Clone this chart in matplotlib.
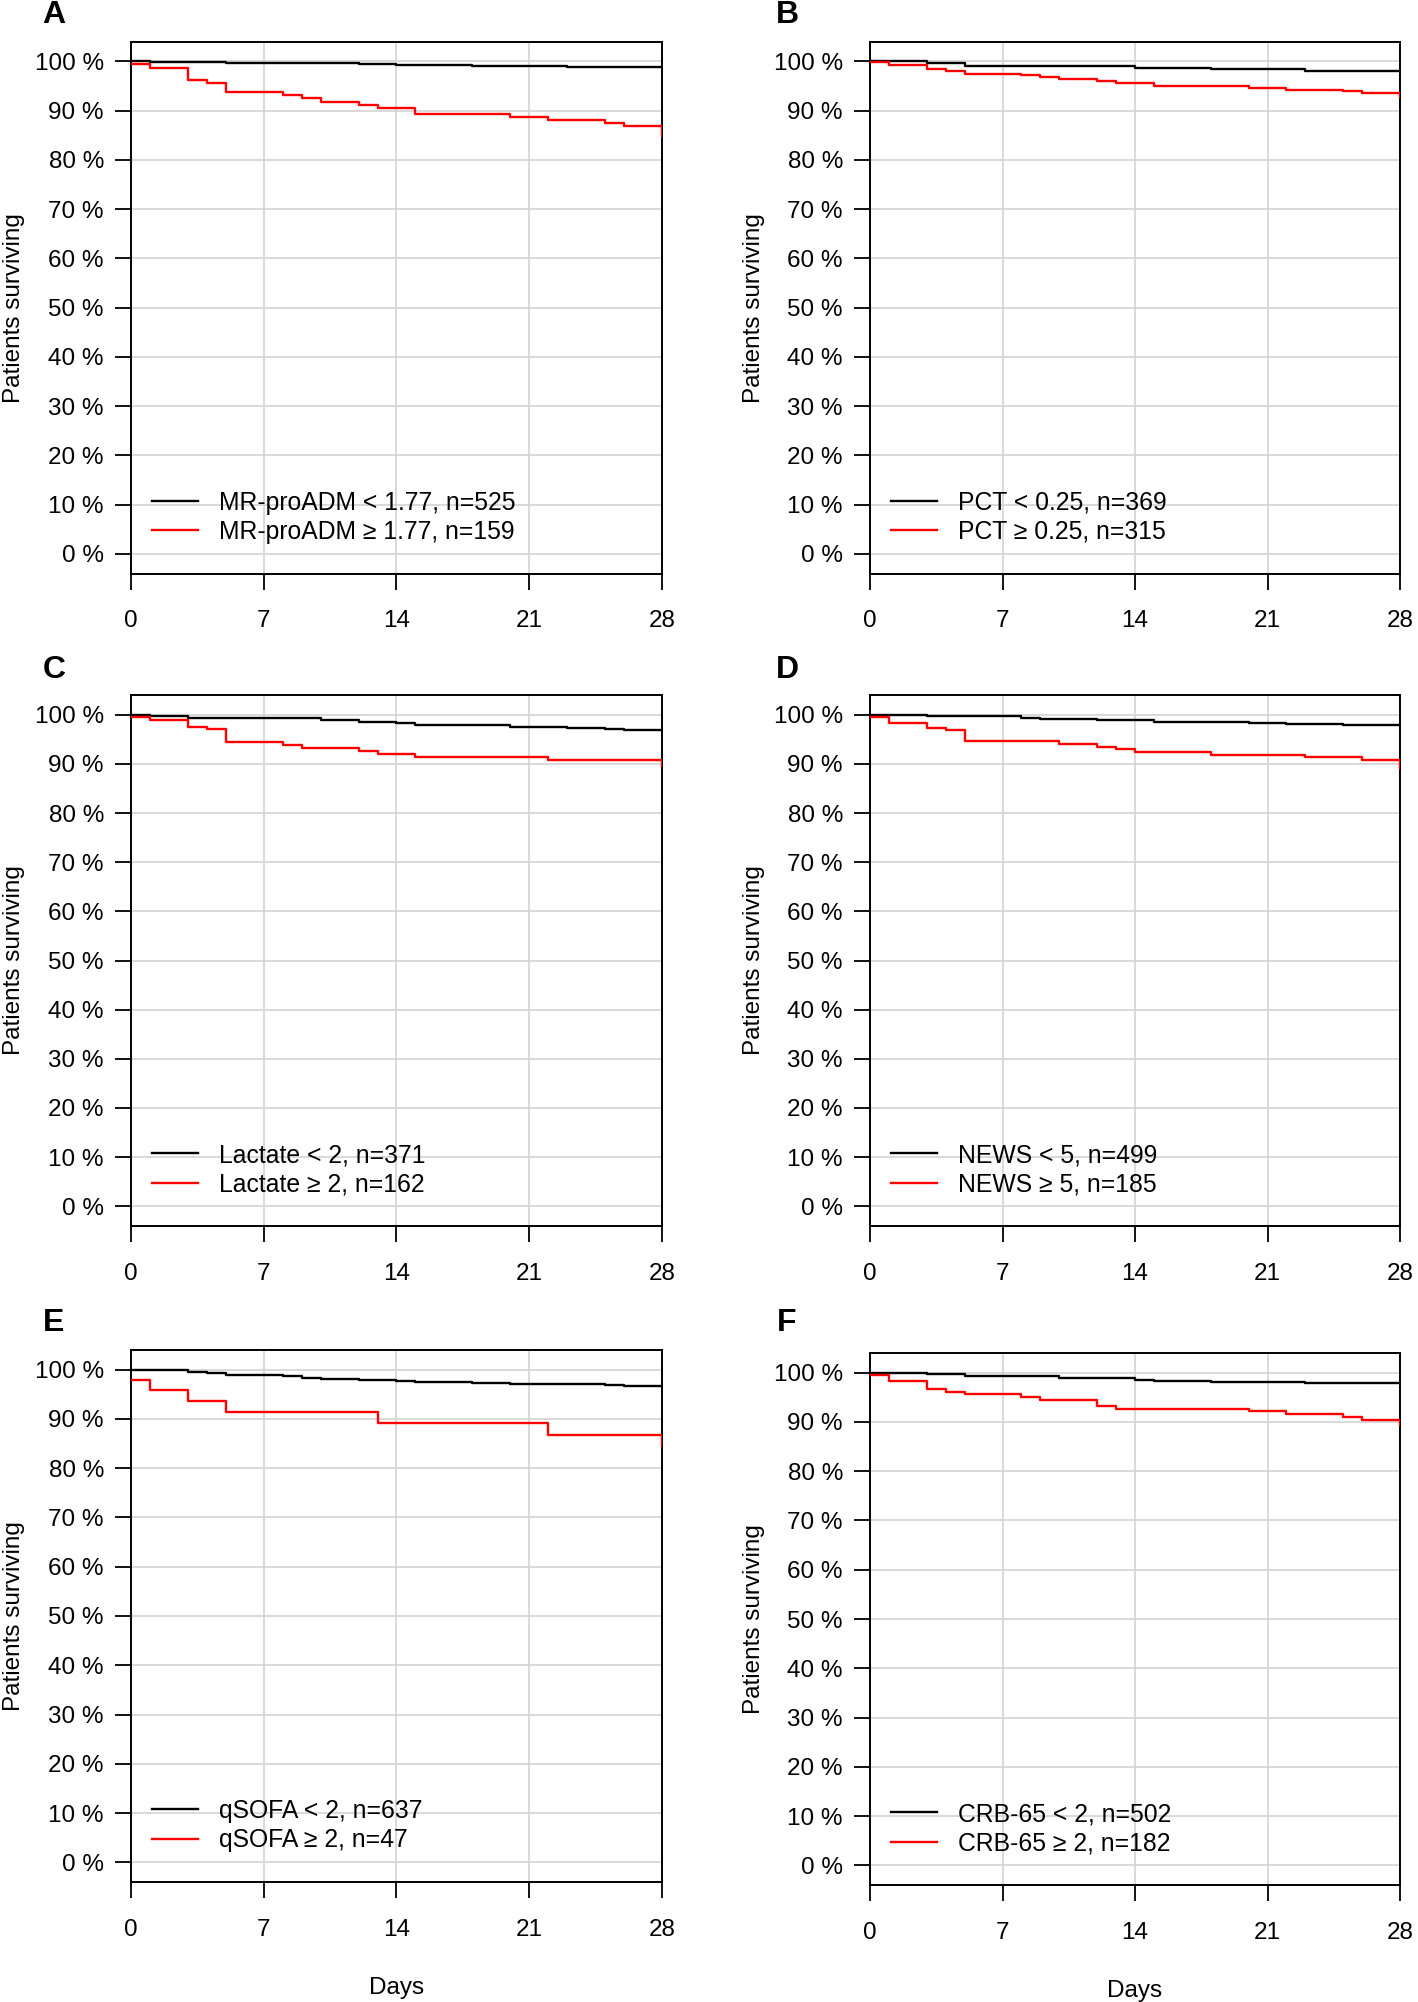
import matplotlib
matplotlib.use('Agg')
import matplotlib.pyplot as plt

plt.rcParams['font.family'] = ['Liberation Sans', 'DejaVu Sans']

# Achsen / Beschriftungen
panel_letters = ['A', 'B', 'C', 'D', 'E', 'F']
x_ticks = [0, 7, 14, 21, 28]
y_ticks = [0, 10, 20, 30, 40, 50, 60, 70, 80, 90, 100]
y_tick_labels = [f'{v} %' for v in y_ticks]

low_labels = ['MR-proADM < 1.77, n=525', 'PCT < 0.25, n=369', 'Lactate < 2, n=371',
              'NEWS < 5, n=499', 'qSOFA < 2, n=637', 'CRB-65 < 2, n=502']
high_labels = ['MR-proADM \u2265 1.77, n=159', 'PCT \u2265 0.25, n=315', 'Lactate \u2265 2, n=162',
               'NEWS \u2265 5, n=185', 'qSOFA \u2265 2, n=47', 'CRB-65 \u2265 2, n=182']

# A: MR-proADM
a_low_days = [0, 1, 5, 12, 14, 18, 23, 28]
a_low_surv = [100, 99.8, 99.6, 99.4, 99.2, 99.0, 98.8, 98.8]
a_high_days = [0, 1, 3, 4, 5, 8, 9, 10, 12, 13, 15, 20, 22, 25, 26, 28]
a_high_surv = [99.4, 98.7, 96.2, 95.6, 93.7, 93.1, 92.5, 91.8, 91.2, 90.6, 89.3, 88.7, 88.1, 87.4, 86.8, 84.9]

# B: PCT
b_low_days = [0, 3, 5, 14, 18, 23, 28]
b_low_surv = [100, 99.6, 99.1, 98.7, 98.4, 98.1, 98.1]
b_high_days = [0, 1, 3, 4, 5, 8, 9, 10, 12, 13, 15, 20, 22, 25, 26, 28]
b_high_surv = [99.8, 99.2, 98.4, 98.1, 97.5, 97.2, 96.8, 96.5, 95.9, 95.5, 94.9, 94.5, 94.1, 93.9, 93.5, 92.8]

# C: Lactate
c_low_days = [0, 1, 3, 10, 12, 14, 15, 18, 20, 23, 25, 26, 28]
c_low_surv = [100, 99.8, 99.3, 99.0, 98.6, 98.4, 98.0, 97.8, 97.5, 97.2, 97.0, 96.8, 96.8]
c_high_days = [0, 1, 3, 4, 5, 8, 9, 12, 13, 15, 22, 28]
c_high_surv = [99.5, 98.9, 97.5, 97.0, 94.4, 93.8, 93.2, 92.6, 92.0, 91.4, 90.7, 89.6]

# D: NEWS
d_low_days = [0, 3, 8, 9, 12, 15, 20, 22, 25, 28]
d_low_surv = [100, 99.7, 99.4, 99.1, 99.0, 98.6, 98.4, 98.1, 97.9, 97.9]
d_high_days = [0, 1, 3, 4, 5, 10, 12, 13, 14, 18, 23, 26, 28]
d_high_surv = [99.5, 98.4, 97.3, 96.9, 94.6, 94.1, 93.5, 93.0, 92.4, 91.8, 91.3, 90.7, 89.1]

# E: qSOFA
e_low_days = [0, 1, 3, 4, 5, 8, 9, 10, 12, 14, 15, 18, 20, 23, 25, 26, 28]
e_low_surv = [100, 99.9, 99.5, 99.3, 98.9, 98.7, 98.4, 98.2, 98.0, 97.8, 97.5, 97.3, 97.1, 97.0, 96.9, 96.7, 96.7]
e_high_days = [0, 1, 3, 5, 13, 22, 28]
e_high_surv = [98.0, 95.9, 93.7, 91.4, 89.2, 86.8, 84.6]

# F: CRB-65
f_low_days = [0, 3, 5, 10, 14, 15, 18, 23, 28]
f_low_surv = [100, 99.8, 99.3, 98.9, 98.6, 98.4, 98.2, 98.0, 98.0]
f_high_days = [0, 1, 3, 4, 5, 8, 9, 12, 13, 20, 22, 25, 26, 28]
f_high_surv = [99.6, 98.4, 96.7, 96.1, 95.6, 95.0, 94.4, 93.3, 92.7, 92.2, 91.6, 91.0, 90.5, 89.3]

curves = [
    (a_low_days, a_low_surv, a_high_days, a_high_surv),
    (b_low_days, b_low_surv, b_high_days, b_high_surv),
    (c_low_days, c_low_surv, c_high_days, c_high_surv),
    (d_low_days, d_low_surv, d_high_days, d_high_surv),
    (e_low_days, e_low_surv, e_high_days, e_high_surv),
    (f_low_days, f_low_surv, f_high_days, f_high_surv),
]

FS = 17.5
W, H = 1418, 2002
fig = plt.figure(figsize=(W / 100, H / 100), dpi=100)

# Panel-Positionen in Pixeln (links, oben, rechts, unten)
boxes = [
    (131, 41.6, 662, 573.6), (870, 41.6, 1400, 573.6),
    (131, 695, 662, 1226), (870, 695, 1400, 1226),
    (131, 1350, 662, 1882), (870, 1353, 1400, 1885),
]
letter_pos = [(54, 15), (787, 15), (54, 670), (787, 670), (54, 1323), (787, 1323)]

for i, (letter, (ld, ls, hd, hs)) in enumerate(zip(panel_letters, curves)):
    l, t, r, b = boxes[i]
    ax = fig.add_axes([l / W, 1 - b / H, (r - l) / W, (b - t) / H])

    ax.step(ld, ls, where='post', color='black', lw=1.7, label=low_labels[i], zorder=3)
    ax.step(hd, hs, where='post', color='#ff0000', lw=1.7, label=high_labels[i], zorder=4)

    ax.set_xlim(0, 28)
    ax.set_ylim(-4, 104)
    ax.set_xticks(x_ticks)
    ax.set_yticks(y_ticks)
    ax.set_yticklabels(y_tick_labels)
    ax.grid(True, color='#d3d3d3', lw=1.2, zorder=0)
    ax.tick_params(axis='both', labelsize=FS, length=11.5, width=1.3, color='black')
    ax.tick_params(axis='x', pad=14.8)
    ax.tick_params(axis='y', pad=8)
    for sp in ax.spines.values():
        sp.set_linewidth(1.4)

    ax.set_ylabel('Patients surviving', fontsize=FS)
    ax.yaxis.set_label_coords(-0.199, 0.5)
    if i >= 4:
        ax.set_xlabel('Days', fontsize=FS, labelpad=26)

    ax.legend(loc='center left', bbox_to_anchor=(0.04, 0.106), frameon=False,
              fontsize=17.8, handlelength=1.85, handletextpad=0.86,
              labelspacing=0.21, borderpad=0, borderaxespad=0)

    fig.text(letter_pos[i][0] / W, 1 - letter_pos[i][1] / H, letter,
             fontsize=23, fontweight='bold', ha='center', va='center')

fig.savefig('out.png', dpi=100)
